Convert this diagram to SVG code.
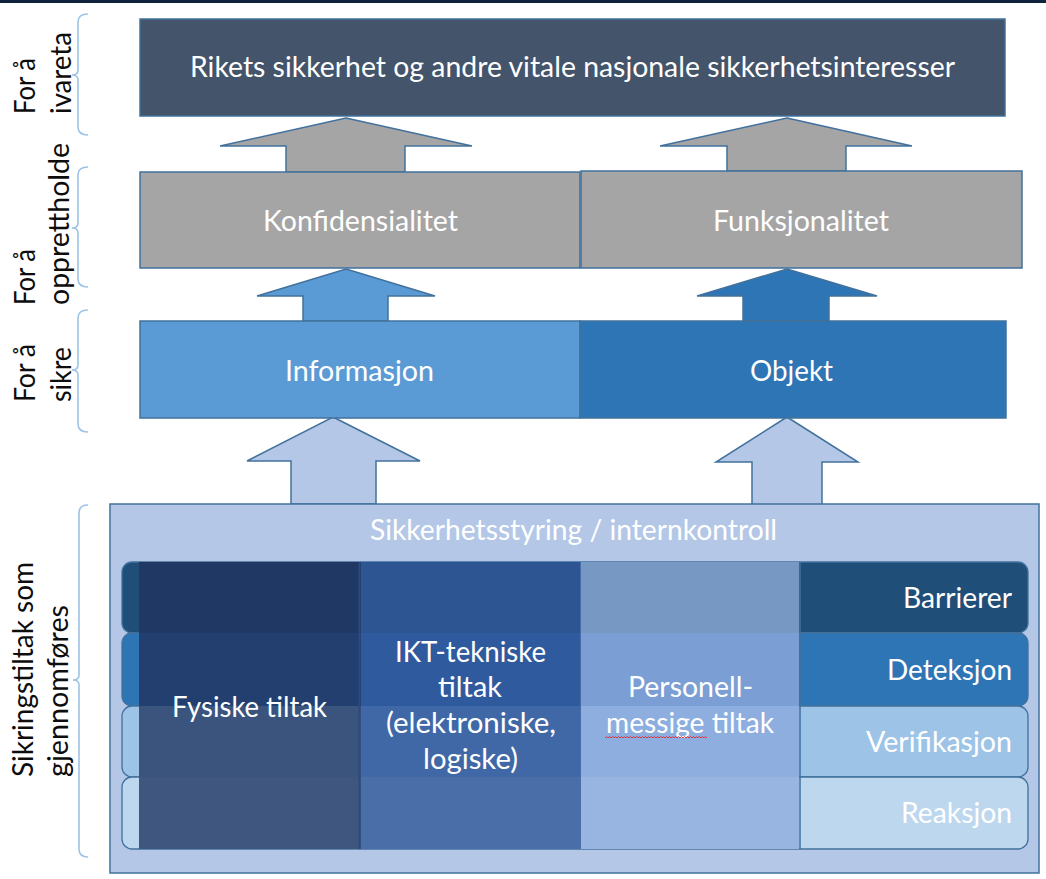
<svg xmlns="http://www.w3.org/2000/svg" width="1046" height="879" viewBox="0 0 1046 879">
<style>
.t{font-family:Lato,"Liberation Sans",sans-serif;font-size:28px;fill:#ffffff}
.l{font-family:Lato,"Liberation Sans",sans-serif;font-size:28px;fill:#0d0d0d}
.bx{stroke:#41719c;stroke-width:1.5}
.ar{stroke:#41719c;stroke-width:1.5;stroke-linejoin:miter}
.br{fill:none;stroke:#9dc3e6;stroke-width:1.6}
.tab{stroke:#41719c;stroke-width:1.3}
</style>
<rect x="0" y="0" width="1046" height="879" fill="#ffffff"/>
<rect x="0" y="0" width="1046" height="3" fill="#10233d"/>

<g id="left-labels">
<path class="br" d="M88,14 Q78,14 78,22 L78,70 Q78,75 72,75 Q78,75 78,80 L78,127 Q78,135 88,135"/>
<path class="br" d="M88,167 Q78,167 78,175 L78,223 Q78,228 72,228 Q78,228 78,233 L78,279 Q78,287 88,287"/>
<path class="br" d="M88,310 Q78,310 78,318 L78,365 Q78,370 72,370 Q78,370 78,375 L78,424 Q78,432 88,432"/>
<path class="br" d="M88,505 Q79,505 79,513 L79,675 Q79,680 73,680 Q79,680 79,685 L79,849 Q79,857 88,857"/>
<text class="l" transform="translate(35,114) rotate(-90)" textLength="56" lengthAdjust="spacingAndGlyphs">For å</text>
<text class="l" transform="translate(71,114) rotate(-90)" textLength="82" lengthAdjust="spacingAndGlyphs">ivareta</text>
<text class="l" transform="translate(35,305) rotate(-90)" textLength="56" lengthAdjust="spacingAndGlyphs">For å</text>
<text class="l" transform="translate(69,305) rotate(-90)" textLength="162" lengthAdjust="spacingAndGlyphs">opprettholde</text>
<text class="l" transform="translate(35,402) rotate(-90)" textLength="58" lengthAdjust="spacingAndGlyphs">For å</text>
<text class="l" transform="translate(71,402) rotate(-90)" textLength="55" lengthAdjust="spacingAndGlyphs">sikre</text>
<text class="l" transform="translate(33,777) rotate(-90)" textLength="215" lengthAdjust="spacingAndGlyphs">Sikringstiltak som</text>
<text class="l" transform="translate(68,777) rotate(-90)" textLength="172" lengthAdjust="spacingAndGlyphs">gjennomføres</text>
</g>

<g id="connectors">
<path class="ar" fill="#a5a5a5" d="M346,118 L472,146 L405,146 L405,172 L286,172 L286,146 L220,146 Z"/>
<path class="ar" fill="#a5a5a5" d="M787,118 L912,146 L846,146 L846,171 L727,171 L727,146 L660,146 Z"/>
<path class="ar" fill="#5b9bd5" d="M346,269 L435,296 L388,296 L388,321 L303,321 L303,296 L257,296 Z"/>
<path class="ar" fill="#2e75b6" d="M787,269 L877,296 L829,296 L829,321 L743,321 L743,296 L697,296 Z"/>
<path class="ar" fill="#b4c7e7" d="M333,417 L420,461 L376,461 L376,504 L291,504 L291,461 L247,461 Z"/>
<path class="ar" fill="#b4c7e7" d="M787,417 L858,462 L822,462 L822,505 L752,505 L752,462 L716,462 Z"/>
</g>

<g id="node-rikets">
<rect class="bx" x="140" y="19" width="865" height="97" fill="#44546a"/>
<text class="t" x="190" y="77" textLength="765" lengthAdjust="spacingAndGlyphs">Rikets sikkerhet og andre vitale nasjonale sikkerhetsinteresser</text>
</g>

<g id="node-konfidensialitet">
<rect class="bx" x="140" y="172" width="440" height="96" fill="#a5a5a5"/>
<text class="t" x="263" y="231" textLength="195" lengthAdjust="spacingAndGlyphs">Konfidensialitet</text>
</g>

<g id="node-funksjonalitet">
<rect class="bx" x="581" y="171" width="441" height="97" fill="#a5a5a5"/>
<text class="t" x="713" y="231" textLength="176" lengthAdjust="spacingAndGlyphs">Funksjonalitet</text>
</g>

<g id="node-informasjon">
<rect class="bx" x="140" y="321" width="440" height="97" fill="#5b9bd5"/>
<text class="t" x="285" y="381" textLength="149" lengthAdjust="spacingAndGlyphs">Informasjon</text>
</g>

<g id="node-objekt">
<rect class="bx" x="580" y="321" width="426" height="97" fill="#2e75b6"/>
<text class="t" x="750" y="381" textLength="83" lengthAdjust="spacingAndGlyphs">Objekt</text>
</g>

<g id="node-sikkerhetsstyring">
<rect class="bx" x="110" y="504" width="929" height="369" fill="#b4c7e7"/>
<text class="t" x="370" y="540" textLength="407" lengthAdjust="spacingAndGlyphs">Sikkerhetsstyring / internkontroll</text>
</g>

<g id="node-barrierer">
<rect class="tab" x="122" y="562" width="906" height="71" rx="10" fill="#1f4e79"/>
</g>
<g id="node-deteksjon">
<rect class="tab" x="122" y="633" width="906" height="73" rx="10" fill="#2e75b6"/>
</g>
<g id="node-verifikasjon">
<rect class="tab" x="122" y="706" width="906" height="71" rx="10" fill="#9dc3e6"/>
</g>
<g id="node-reaksjon">
<rect class="tab" x="122" y="777" width="906" height="72" rx="10" fill="#bdd7ee"/>
</g>

<g id="node-fysiske">
<rect x="139" y="562" width="222" height="71" fill="#203864"/>
<rect x="139" y="633" width="222" height="73" fill="#223f6f"/>
<rect x="139" y="706" width="222" height="71" fill="#3a547e"/>
<rect x="139" y="777" width="222" height="72" fill="#3f567e"/>
<text class="t" x="172" y="717" textLength="155" lengthAdjust="spacingAndGlyphs">Fysiske tiltak</text>
</g>

<g id="node-ikt">
<rect x="361" y="562" width="219" height="71" fill="#2d5592"/>
<rect x="361" y="633" width="219" height="73" fill="#2f5a9e"/>
<rect x="361" y="706" width="219" height="71" fill="#4168a6"/>
<rect x="361" y="777" width="219" height="72" fill="#4a6ea8"/>
<line x1="359.5" y1="562" x2="359.5" y2="849" stroke="#2b4a80" stroke-width="2"/>
<text class="t" x="395" y="662" textLength="151" lengthAdjust="spacingAndGlyphs">IKT-tekniske</text>
<text class="t" x="438" y="697" textLength="64" lengthAdjust="spacingAndGlyphs">tiltak</text>
<text class="t" x="386" y="733" textLength="170" lengthAdjust="spacingAndGlyphs">(elektroniske,</text>
<text class="t" x="423" y="769" textLength="95" lengthAdjust="spacingAndGlyphs">logiske)</text>
</g>

<g id="node-personell">
<rect x="580" y="562" width="219" height="71" fill="#7898c4"/>
<rect x="580" y="633" width="219" height="73" fill="#7b9fd4"/>
<rect x="580" y="706" width="219" height="71" fill="#8daedf"/>
<rect x="580" y="777" width="219" height="72" fill="#98b4e0"/>
<line x1="580.5" y1="562" x2="580.5" y2="849" stroke="#4a6ea8" stroke-width="1"/>
<line x1="800" y1="562" x2="800" y2="849" stroke="#41719c" stroke-width="1.5"/>
<text class="t" x="628" y="697" textLength="125" lengthAdjust="spacingAndGlyphs">Personell-</text>
<text class="t" x="606" y="733" textLength="168" lengthAdjust="spacingAndGlyphs">messige tiltak</text>
<polyline fill="none" stroke="#e8262b" stroke-width="0.9" points="605,738 606.5,736.5 608,738 609.5,736.5 611,738 612.5,736.5 614,738 615.5,736.5 617,738 618.5,736.5 620,738 621.5,736.5 623,738 624.5,736.5 626,738 627.5,736.5 629,738 630.5,736.5 632,738 633.5,736.5 635,738 636.5,736.5 638,738 639.5,736.5 641,738 642.5,736.5 644,738 645.5,736.5 647,738 648.5,736.5 650,738 651.5,736.5 653,738 654.5,736.5 656,738 657.5,736.5 659,738 660.5,736.5 662,738 663.5,736.5 665,738 666.5,736.5 668,738 669.5,736.5 671,738 672.5,736.5 674,738 675.5,736.5 677,738 678.5,736.5 680,738 681.5,736.5 683,738 684.5,736.5 686,738 687.5,736.5 689,738 690.5,736.5 692,738 693.5,736.5 695,738 696.5,736.5 698,738 699.5,736.5 701,738 702.5,736.5 704,738 705.5,736.5 707,738"/>
</g>

<g id="row-labels">
<text class="t" x="903" y="608" textLength="109" lengthAdjust="spacingAndGlyphs">Barrierer</text>
<text class="t" x="887" y="680" textLength="125" lengthAdjust="spacingAndGlyphs">Deteksjon</text>
<text class="t" x="866" y="752" textLength="146" lengthAdjust="spacingAndGlyphs">Verifikasjon</text>
<text class="t" x="901" y="823" textLength="111" lengthAdjust="spacingAndGlyphs">Reaksjon</text>
</g>
</svg>
